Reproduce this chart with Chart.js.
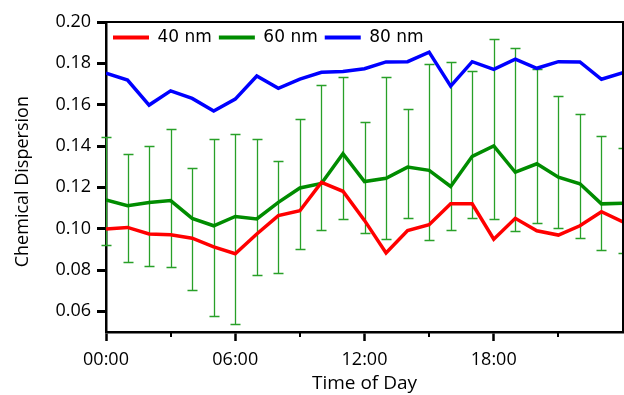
<!DOCTYPE html>
<html><head><meta charset="utf-8">
<script src="https://cdn.jsdelivr.net/npm/chart.js@4/dist/chart.umd.min.js"></script>
<style>html,body{margin:0;padding:0;background:#fff}</style>
</head><body>
<canvas id="c" width="624" height="395"></canvas>
<script>
const hours = [0,1,2,3,4,5,6,7,8,9,10,11,12,13,14,15,16,17,18,19,20,21,22,23,24];
const series40 = [0.0998,0.1006,0.0974,0.0970,0.0954,0.0912,0.0879,0.0974,0.1063,0.1087,0.1224,0.1181,0.1040,0.0882,0.0991,0.1019,0.1120,0.1120,0.0949,0.1050,0.0990,0.0969,0.1014,0.1082,0.1033];
const series60 = [0.1139,0.1111,0.1127,0.1136,0.1050,0.1014,0.1059,0.1047,0.1127,0.1197,0.1219,0.1363,0.1228,0.1244,0.1298,0.1282,0.1204,0.1350,0.1400,0.1273,0.1314,0.1249,0.1217,0.1120,0.1123];
const series80 = [0.1752,0.1719,0.1598,0.1667,0.1630,0.1569,0.1627,0.1739,0.1679,0.1724,0.1757,0.1760,0.1774,0.1807,0.1808,0.1854,0.1690,0.1808,0.1771,0.1820,0.1776,0.1808,0.1807,0.1723,0.1755];
const err60Upper = [0.1444,0.1363,0.1400,0.1481,0.1293,0.1436,0.1457,0.1436,0.1329,0.1533,0.1695,0.1732,0.1517,0.1735,0.1580,0.1796,0.1805,0.1763,0.1920,0.1872,0.1771,0.1643,0.1557,0.1448,0.1392];
const err60Lower = [0.0920,0.0839,0.0820,0.0816,0.0701,0.0576,0.0539,0.0774,0.0787,0.0901,0.0993,0.1047,0.0979,0.0950,0.1052,0.0945,0.0995,0.1050,0.1047,0.0990,0.1027,0.1004,0.0957,0.0896,0.0881];
const seriesNames = ['40 nm','60 nm','80 nm'];
const yTicks = [0.06,0.08,0.10,0.12,0.14,0.16,0.18,0.20];
const xMajorTicks = [0,6,12,18];
const xMinorTicks = [3,9,15,21];

const errorBars = {
  id: 'errorBars',
  beforeDatasetsDraw(chart) {
    const {ctx, scales: {x, y}} = chart;
    ctx.save();
    ctx.strokeStyle = '#28a028';
    ctx.lineWidth = 1.3;
    for (let i = 0; i < hours.length; i++) {
      const px = Math.round(x.getPixelForValue(hours[i])) + 0.5;
      const yt = Math.round(y.getPixelForValue(err60Upper[i])) + 0.5;
      const yb = Math.round(y.getPixelForValue(err60Lower[i])) + 0.5;
      ctx.beginPath();
      ctx.moveTo(px, yt); ctx.lineTo(px, yb);
      ctx.moveTo(px - 5, yt); ctx.lineTo(px + 5, yt);
      ctx.moveTo(px - 5, yb); ctx.lineTo(px + 5, yb);
      ctx.stroke();
    }
    ctx.restore();
  }
};
const frame = {
  id: 'frame',
  afterDraw(chart) {
    const {ctx, chartArea: a, scales: {x}} = chart;
    ctx.save();
    ctx.strokeStyle = '#000';
    ctx.lineWidth = 2;
    ctx.beginPath();
    ctx.moveTo(a.left, a.top); ctx.lineTo(a.right, a.top); ctx.lineTo(a.right, a.bottom);
    ctx.stroke();
    ctx.beginPath();
    xMinorTicks.forEach(v => {
      const px = Math.round(x.getPixelForValue(v));
      ctx.moveTo(px, a.bottom); ctx.lineTo(px, a.bottom + 5);
    });
    ctx.stroke();
    ctx.restore();
  }
};
// keep the horizontal legend inside the plot box (it reserves no layout height)
const legendInside = {
  id: 'legendInside',
  beforeLayout(chart) {
    const lg = chart.legend;
    if (lg && !lg._patched) {
      const orig = lg.update.bind(lg);
      lg.update = function (w, h, m) { orig(w, h, m); this._realH = this.height; this.height = 0; };
      lg._patched = true;
    }
  },
  afterLayout(chart) {
    const lg = chart.legend;
    if (lg && lg._realH) { lg.height = lg._realH; lg.bottom = lg.top + lg._realH; }
  }
};

new Chart(document.getElementById('c'), {
  type: 'line',
  data: {
    labels: hours,
    datasets: [
      {label: seriesNames[0], data: series40, borderColor: '#ff0000', backgroundColor: '#ff0000'},
      {label: seriesNames[1], data: series60, borderColor: '#008c00', backgroundColor: '#008c00'},
      {label: seriesNames[2], data: series80, borderColor: '#0000ff', backgroundColor: '#0000ff'}
    ]
  },
  options: {
    responsive: false,
    animation: false,
    devicePixelRatio: 1,
    layout: {padding: {top: 22, right: 1, left: 0, bottom: 0}},
    elements: {
      line: {borderWidth: 3.5, tension: 0, fill: false},
      point: {radius: 0, hoverRadius: 0}
    },
    plugins: {
      tooltip: {enabled: false},
      legend: {
        position: 'top',
        align: 'start',
        fullSize: false,
        labels: {
          boxWidth: 36, boxHeight: 4, padding: 7,
          color: '#000',
          font: {family: 'DejaVu Sans', size: 17},
          generateLabels(chart) {
            return Chart.defaults.plugins.legend.labels.generateLabels(chart).map(l => Object.assign(l, {lineWidth: 0, fillStyle: l.strokeStyle}));
          }
        }
      }
    },
    scales: {
      x: {
        type: 'linear', min: 0, max: 24,
        afterBuildTicks(s) { s.ticks = xMajorTicks.map(v => ({value: v})); },
        afterFit(s) { s.height = 63; },
        ticks: {
          color: '#000', padding: 8, maxRotation: 0,
          font: {family: 'Open Sans', size: 18},
          callback: v => String(v).padStart(2, '0') + ':00'
        },
        grid: {drawOnChartArea: false, tickLength: 9, tickWidth: 2.5, tickColor: '#000'},
        border: {color: '#000', width: 2.5},
        title: {display: true, text: 'Time of Day', color: '#000', font: {family: 'Open Sans', size: 19}, padding: {top: 0, bottom: 0}}
      },
      y: {
        type: 'linear', min: 0.05, max: 0.20,
        afterBuildTicks(s) { s.ticks = yTicks.map(v => ({value: v})); },
        afterFit(s) { s.width = 106; },
        ticks: {
          color: '#000', padding: 6,
          font: {family: 'Open Sans', size: 18},
          callback: v => v.toFixed(2)
        },
        grid: {drawOnChartArea: false, tickLength: 9, tickWidth: 3, tickColor: '#000'},
        border: {color: '#000', width: 2.5},
        title: {display: true, text: 'Chemical Dispersion  ', color: '#000', font: {family: 'Open Sans', size: 18}, padding: {top: 12, bottom: 0}}
      }
    }
  },
  plugins: [legendInside, errorBars, frame]
});
</script>
</body></html>
